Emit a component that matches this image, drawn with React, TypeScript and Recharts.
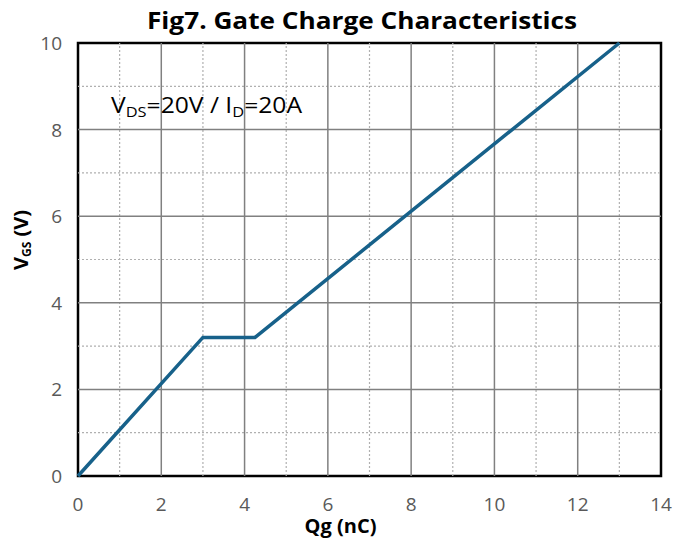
import React from 'react';
import { LineChart, Line, XAxis, YAxis, ReferenceLine, ReferenceArea, Label } from 'recharts';

const qg = [0, 3, 4.25, 13];
const vgs = [0, 3.2, 3.2, 10];

const xTicks = [0, 2, 4, 6, 8, 10, 12, 14];
const yTicks = [0, 2, 4, 6, 8, 10];
const xMinor = [1, 3, 5, 7, 9, 11, 13];
const yMinor = [1, 3, 5, 7, 9];

const data = qg.map((q, i) => ({ qg: q, vgs: vgs[i] }));

const FONT = '"Open Sans", sans-serif';
const TICK_COLOR = '#595959';

const XTick = (props: any) => (
  <text x={props.x} y={props.y} dy={27} textAnchor="middle" fill={TICK_COLOR} fontSize={19} fontFamily={FONT}>
    {props.payload.value}
  </text>
);

const YTick = (props: any) => (
  <text x={props.x - 8} y={props.y} dy={7} textAnchor="end" fill={TICK_COLOR} fontSize={19} fontFamily={FONT}>
    {props.payload.value}
  </text>
);

export default function App() {
  return (
    <div style={{ position: 'absolute', left: 0, top: 0, width: 680, height: 539, background: '#fff' }}>
      <LineChart width={680} height={539} data={data} margin={{ top: 43, right: 19, bottom: 0, left: 0 }}>
        {xMinor.map((v) => (
          <ReferenceLine key={`xm${v}`} x={v} stroke="#b0b0b0" strokeWidth={1.2} strokeDasharray="2 2" />
        ))}
        {yMinor.map((v) => (
          <ReferenceLine key={`ym${v}`} y={v} stroke="#b0b0b0" strokeWidth={1.2} strokeDasharray="2 2" />
        ))}
        {xTicks.slice(1, -1).map((v) => (
          <ReferenceLine key={`xM${v}`} x={v} stroke="#808080" strokeWidth={1.5} />
        ))}
        {yTicks.slice(1, -1).map((v) => (
          <ReferenceLine key={`yM${v}`} y={v} stroke="#808080" strokeWidth={1.5} />
        ))}
        <ReferenceArea x1={0} x2={14} y1={0} y2={10} fill="none" stroke="#000" strokeWidth={2.5} />
        <XAxis
          dataKey="qg"
          type="number"
          domain={[0, 14]}
          ticks={xTicks}
          interval={0}
          height={63}
          axisLine={false}
          tickLine={false}
          tick={<XTick />}
        >
          <Label
            value="Qg (nC)"
            position="insideBottom"
            offset={6}
            dx={-29}
            style={{ fontFamily: FONT, fontWeight: 700, fontSize: 20, fill: '#000' }}
          />
        </XAxis>
        <YAxis
          type="number"
          domain={[0, 10]}
          ticks={yTicks}
          interval={0}
          width={78}
          axisLine={false}
          tickLine={false}
          tick={<YTick />}
        />
        <Line
          dataKey="vgs"
          type="linear"
          stroke="#17618a"
          strokeWidth={3.5}
          dot={false}
          isAnimationActive={false}
        />
      </LineChart>
      <svg width={680} height={539} style={{ position: 'absolute', left: 0, top: 0, pointerEvents: 'none' }}>
        <text x={362} y={29} textAnchor="middle" fontFamily={FONT} fontWeight={700} fontSize={23} textLength={430} lengthAdjust="spacingAndGlyphs">
          Fig7. Gate Charge Characteristics
        </text>
        <text x={111} y={113} fontFamily={FONT} fontSize={21} fill="#000" textLength={191} lengthAdjust="spacingAndGlyphs">
          V<tspan fontSize={14} dy={4}>DS</tspan>
          <tspan dy={-4}>=20V / I</tspan>
          <tspan fontSize={14} dy={4}>D</tspan>
          <tspan dy={-4}>=20A</tspan>
        </text>
        <text transform="translate(28,240) rotate(-90)" textAnchor="middle" fontFamily={FONT} fontWeight={700} fontSize={20} fill="#000">
          V<tspan fontSize={12} dy={3}>GS</tspan>
          <tspan dy={-3}> (V)</tspan>
        </text>
      </svg>
    </div>
  );
}
